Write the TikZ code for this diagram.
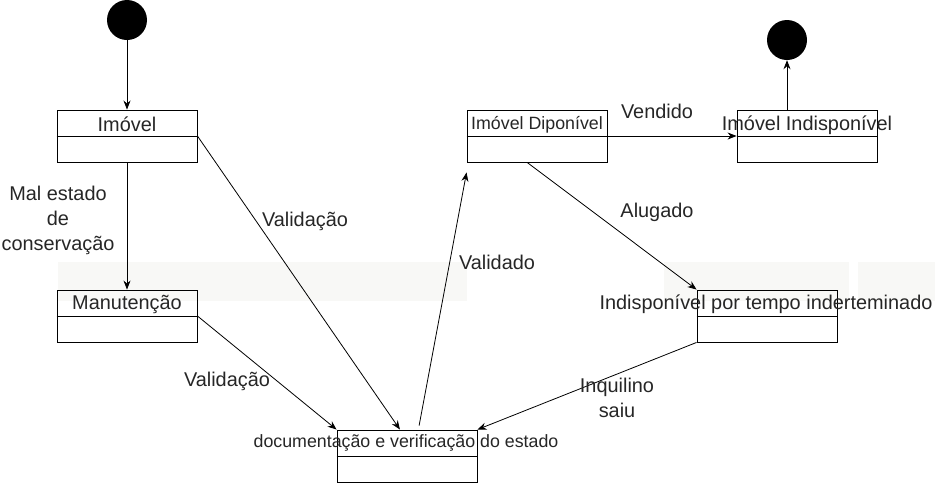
\documentclass[tikz,border=0pt]{standalone}
\usepackage{fontspec}
\setmainfont{Liberation Sans}
\usetikzlibrary{arrows.meta,calc}
\definecolor{faixa}{RGB}{248,248,246}
\begin{document}
\begin{tikzpicture}[x=1pt,y=-1pt,
  estado/.style={draw, line width=0.9pt, minimum width=140pt, minimum height=52pt, inner sep=0pt},
  bola/.style={circle, fill=black, minimum size=40pt, inner sep=0pt},
  rotulo/.style={font=\fontsize{19.9}{25}\selectfont, text=black!85, align=center, inner sep=0pt},
  menor/.style={font=\fontsize{17.8}{22}\selectfont, text=black!85, inner sep=0pt},
  seta/.style={-{Stealth[length=9pt,width=7pt]}, line width=0.8pt}]

\useasboundingbox (0,0) rectangle (935,483);
\fill[faixa] (58,262) rectangle (467,301);
\fill[faixa] (664,262) rectangle (849,301);
\fill[faixa] (858,262) rectangle (935,301);

\node[bola] (ini) at (127,20) {};
\node[bola] (fim) at (787,40) {};

\node[estado] (imovel) at (127,136) {};
\node[estado] (manut) at (127,316) {};
\node[estado] (disp) at (537,136) {};
\node[estado] (indisp) at (807,136) {};
\node[estado] (tempo) at (767,316) {};
\node[estado] (doc) at (407,456) {};

\foreach \n in {imovel,manut,disp,indisp,tempo,doc}
  \draw[line width=0.9pt] (\n.west) -- (\n.east);

\node[rotulo] (timovel) at (127,124) {Imóvel};
\node[rotulo] (tmanut) at (127,304) {Manutenção};
\node[menor] (tdisp) at (537,125) {Imóvel Diponível};
\node[rotulo] (tindisp) at (807,125) {Imóvel Indisponível};
\node[rotulo] (ttempo) at (766,304) {Indisponível por tempo inderteminado};
\node[menor] (tdoc) at (406,443) {documentação e verificação do estado};

\coordinate (docvalida) at ($(doc.north west)!0.45!(doc.north east)$);
\coordinate (docsai) at ($(doc.north west)!0.586!(doc.north east) + (0,-4)$);
\coordinate (dispchega) at ($(disp.south west) + (0,10)$);
\coordinate (dispsai) at ($(disp.south west)!0.43!(disp.south east)$);

\draw[seta] (ini) -- (imovel);
\draw[seta] (imovel) -- (manut);
\draw[seta] (imovel.east) -- (docvalida);
\draw[seta] (manut.east) -- (doc.north west);
\draw[seta] (docsai) -- (dispchega);
\draw[seta] (disp.east) -- (indisp.west);
\draw[seta] (indisp.north -| fim) -- (fim);
\draw[seta] (dispsai) -- (tempo.north west);
\draw[seta] (tempo.south west) -- (doc.north east);

\node[rotulo] (lmal) at (58,220) {Mal estado\\de\\conservação};
\node[rotulo] (lval1) at (305,221) {Validação};
\node[rotulo] (lval2) at (227,381) {Validação};
\node[rotulo] (lvalido) at (497,262) {Validado};
\node[rotulo] (lvend) at (657,111) {Vendido};
\node[rotulo] (lalug) at (657,212) {Alugado};
\node[rotulo] (linq) at (617,398) {Inquilino\\saiu};

\end{tikzpicture}
\end{document}
